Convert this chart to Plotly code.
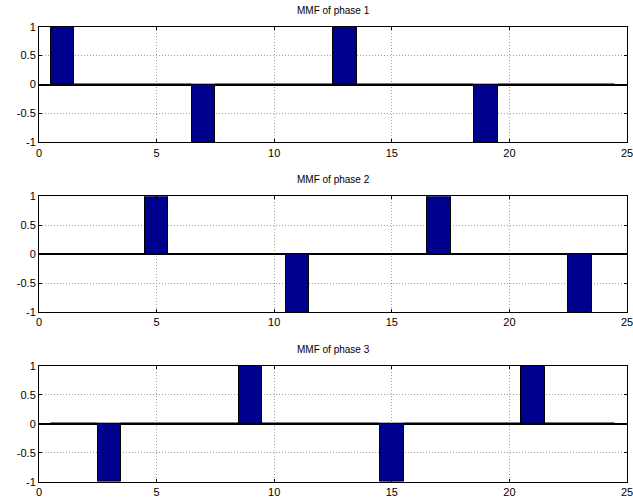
import plotly.graph_objects as go
from plotly.subplots import make_subplots

# Slot positions and MMF values for each phase
slots = list(range(1, 25))
phase1 = [1, 0, 0, 0, 0, 0, -1, 0, 0, 0, 0, 0, 1, 0, 0, 0, 0, 0, -1, 0, 0, 0, 0, 0]
phase2 = [0, 0, 0, 0, 1, 0, 0, 0, 0, 0, -1, 0, 0, 0, 0, 0, 1, 0, 0, 0, 0, 0, -1, 0]
phase3 = [0, 0, -1, 0, 0, 0, 0, 0, 1, 0, 0, 0, 0, 0, -1, 0, 0, 0, 0, 0, 1, 0, 0, 0]
titles = ["MMF of phase 1", "MMF of phase 2", "MMF of phase 3"]
x_ticks = [0, 5, 10, 15, 20, 25]
y_ticks = [-1, -0.5, 0, 0.5, 1]
y_ticklabels = ["-1", "-0.5", "0", "0.5", "1"]

W, H = 633, 504
FONT = "Liberation Sans, Arial, sans-serif"
BAR_COLOR = "#00008F"
GRID = "#a0a0a0"

# pixel layout of the three axes (top, bottom) and left/right edges
rows_px = [(26.7, 142.3), (196.2, 312.0), (365.7, 481.7)]
left_px, right_px = 39.0, 627.0

fig = make_subplots(rows=3, cols=1)

for i, (vals, title) in enumerate(zip([phase1, phase2, phase3], titles)):
    r = i + 1
    fig.add_trace(
        go.Bar(
            x=slots, y=vals, width=1.0,
            marker=dict(color=BAR_COLOR, line=dict(color="black", width=1)),
            showlegend=False, hoverinfo="x+y",
        ),
        row=r, col=1,
    )
    top, bot = rows_px[i]
    xa = "xaxis" if r == 1 else f"xaxis{r}"
    ya = "yaxis" if r == 1 else f"yaxis{r}"
    fig.layout[xa].update(
        domain=[left_px / W, right_px / W],
        range=[0, 25], tickvals=x_ticks,
        ticks="inside", ticklen=3, tickcolor="black",
        showline=True, linecolor="black", linewidth=1, mirror="all",
        showgrid=True, gridcolor=GRID, griddash="1px,2px", gridwidth=1,
        zeroline=False, automargin=False, ticklabeloverflow="allow",
        tickfont=dict(family=FONT, size=11, color="black"),
    )
    fig.layout[ya].update(
        domain=[1 - bot / H, 1 - top / H],
        range=[-1, 1], tickvals=y_ticks, ticktext=y_ticklabels,
        ticks="inside", ticklen=3, tickcolor="black",
        showline=True, linecolor="black", linewidth=1, mirror="all",
        showgrid=True, gridcolor=GRID, griddash="1px,2px", gridwidth=1,
        zeroline=True, zerolinecolor="black", zerolinewidth=1.5,
        automargin=False, ticklabeloverflow="allow",
        tickfont=dict(family=FONT, size=11, color="black"),
    )
    fig.add_annotation(
        text=title, xref="paper", yref="paper",
        x=(left_px + right_px) / 2 / W, y=1 - (top - 9) / H,
        xanchor="center", yanchor="bottom", showarrow=False,
        font=dict(family=FONT, size=10, color="black"),
    )

fig.update_layout(
    width=W, height=H,
    margin=dict(l=0, r=0, t=0, b=0),
    paper_bgcolor="white", plot_bgcolor="white",
    bargap=0,
)

fig.write_html("out.html")
